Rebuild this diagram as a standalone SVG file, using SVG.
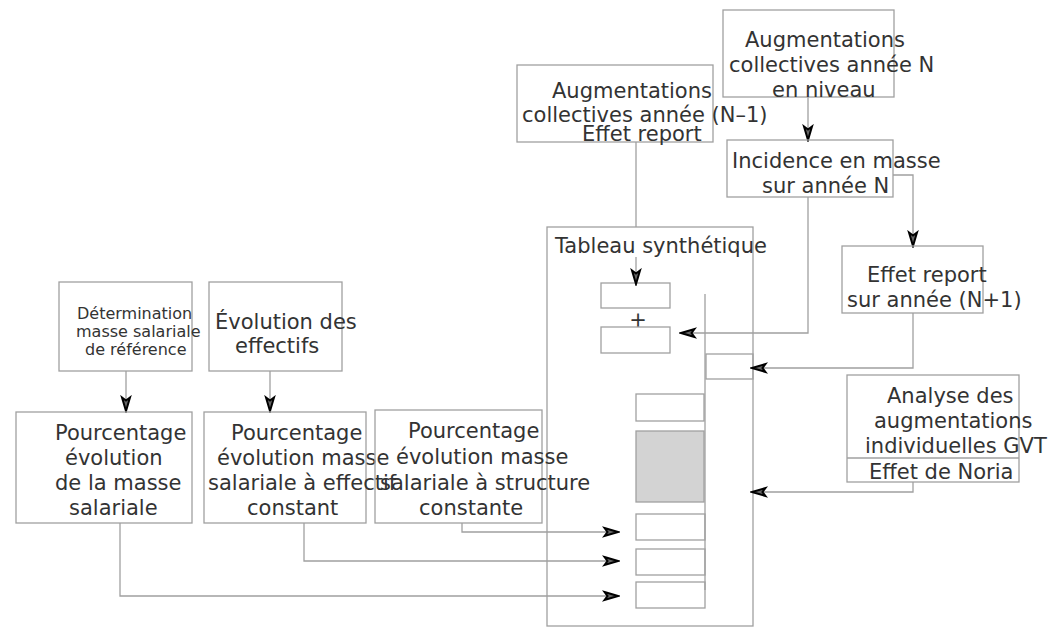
<svg xmlns="http://www.w3.org/2000/svg" width="1053" height="627" viewBox="0 0 1053 627">
<style>
.box{fill:none;stroke:#a0a0a0;stroke-width:1.3}
.gray{fill:#d3d3d3;stroke:#a0a0a0;stroke-width:1.3}
.t{font-family:"DejaVu Sans",sans-serif;font-size:21px;fill:#333333}
.s{font-family:"DejaVu Sans",sans-serif;font-size:16px;fill:#333333}
.c{fill:none;stroke:#a0a0a0;stroke-width:1.3}
.a{marker-end:url(#arr)}
</style>
<defs>
<marker id="arr" markerUnits="userSpaceOnUse" markerWidth="18" markerHeight="12" refX="16" refY="6" orient="auto">
<path d="M2.5,2 L16,6 L2.5,10 L5.5,6 Z" fill="#666666" stroke="#000000" stroke-width="2" stroke-linejoin="miter"/>
</marker>
</defs>
<rect width="1053" height="627" fill="#ffffff"/>

<g id="tableau">
<rect class="box" x="547" y="227" width="206" height="399"/>
<text class="t" x="555" y="253">Tableau synthétique</text>
<rect class="box" x="601" y="283" width="69" height="25"/>
<text class="t" x="638" y="327" text-anchor="middle">+</text>
<rect class="box" x="601" y="327" width="69" height="26"/>
<line class="c" x1="705" y1="294" x2="705" y2="590"/>
<rect class="box" x="706" y="354" width="47" height="25"/>
<rect class="box" x="636" y="394" width="68" height="27"/>
<rect class="gray" x="636" y="431" width="68" height="71"/>
<rect class="box" x="636" y="514" width="69" height="26"/>
<rect class="box" x="636" y="549" width="69" height="26"/>
<rect class="box" x="636" y="582" width="69" height="26"/>
</g>

<g id="connectors">
<path class="c" d="M636,142 V227"/>
<path class="c a" d="M636,257 V284"/>
<path class="c a" d="M808,97 V140"/>
<path class="c a" d="M893,175 H913 V246"/>
<path class="c a" d="M808,197 V333 H681"/>
<path class="c a" d="M913,313 V368 H752"/>
<path class="c a" d="M913,482 V492 H752"/>
<path class="c a" d="M126,371 V411"/>
<path class="c a" d="M270,371 V411"/>
<path class="c a" d="M462,523 V532 H618"/>
<path class="c a" d="M304,523 V561 H618"/>
<path class="c a" d="M120,523 V596 H618"/>
</g>

<g id="aug-n-1">
<rect class="box" x="517" y="65" width="196" height="77"/>
<text class="t" x="552" y="98">Augmentations</text>
<text class="t" x="522" y="122">collectives année (N–1)</text>
<text class="t" x="582" y="141">Effet report</text>
</g>

<g id="aug-n">
<rect class="box" x="723" y="10" width="171" height="87"/>
<text class="t" x="745" y="47">Augmentations</text>
<text class="t" x="729" y="72">collectives année N</text>
<text class="t" x="772" y="97">en niveau</text>
</g>

<g id="incidence">
<rect class="box" x="727" y="140" width="166" height="57"/>
<text class="t" x="732" y="168">Incidence en masse</text>
<text class="t" x="762" y="193">sur année N</text>
</g>

<g id="effet-report-n1">
<rect class="box" x="842" y="246" width="141" height="67"/>
<text class="t" x="867" y="282">Effet report</text>
<text class="t" x="847" y="307">sur année (N+1)</text>
</g>

<g id="gvt">
<rect class="box" x="847" y="375" width="172" height="107"/>
<line class="c" x1="847" y1="458" x2="1019" y2="458"/>
<text class="t" x="887" y="403">Analyse des</text>
<text class="t" x="874" y="428">augmentations</text>
<text class="t" x="865" y="453">individuelles GVT</text>
<text class="t" x="869" y="479">Effet de Noria</text>
</g>

<g id="determination">
<rect class="box" x="59" y="282" width="133" height="89"/>
<text class="s" x="77" y="319">Détermination</text>
<text class="s" x="76" y="337">masse salariale</text>
<text class="s" x="85" y="355">de référence</text>
</g>

<g id="evolution-effectifs">
<rect class="box" x="209" y="282" width="133" height="89"/>
<text class="t" x="215" y="329">Évolution des</text>
<text class="t" x="235" y="353">effectifs</text>
</g>

<g id="pct-masse">
<rect class="box" x="16" y="412" width="176" height="111"/>
<text class="t" x="55" y="440">Pourcentage</text>
<text class="t" x="65" y="465">évolution</text>
<text class="t" x="55" y="490">de la masse</text>
<text class="t" x="69" y="515">salariale</text>
</g>

<g id="pct-effectif">
<rect class="box" x="204" y="412" width="162" height="111"/>
<text class="t" x="231" y="440">Pourcentage</text>
<text class="t" x="217" y="465">évolution masse</text>
<text class="t" x="208" y="490">salariale à effectif</text>
<text class="t" x="247" y="515">constant</text>
</g>

<g id="pct-structure">
<rect class="box" x="375" y="410" width="167" height="113"/>
<text class="t" x="408" y="438">Pourcentage</text>
<text class="t" x="396" y="464">évolution masse</text>
<text class="t" x="380" y="490">salariale à structure</text>
<text class="t" x="419" y="515">constante</text>
</g>
</svg>
